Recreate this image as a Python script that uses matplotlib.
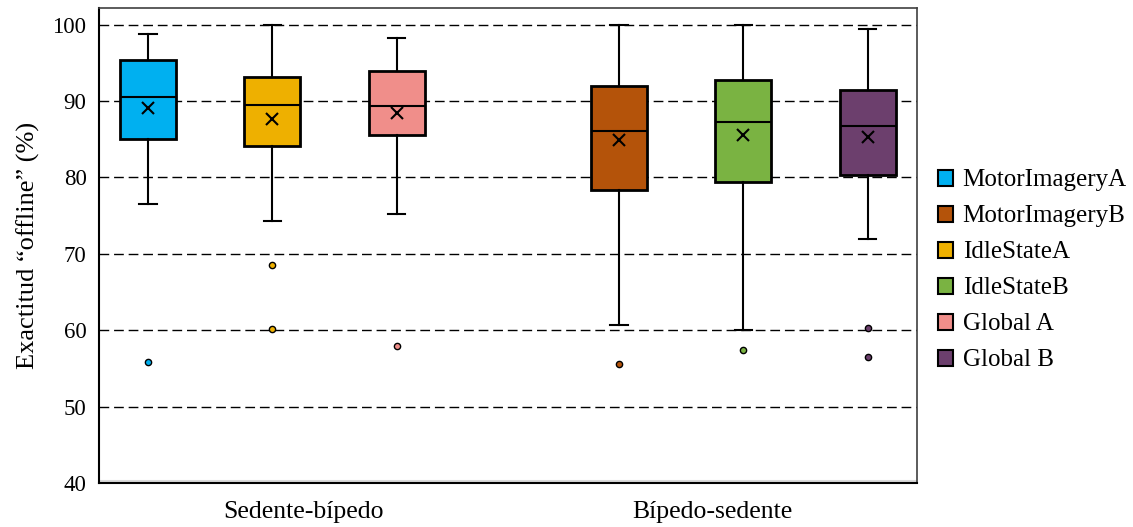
import matplotlib
matplotlib.use("Agg")
import matplotlib.pyplot as plt
from matplotlib.patches import Patch

plt.rcParams['font.family'] = ['Liberation Serif', 'DejaVu Serif']

# categories on the x axis
groups = ['Sedente-bípedo', 'Bípedo-sedente']

# series (legend order) and the group each one belongs to
series = ['MotorImageryA', 'MotorImageryB', 'IdleStateA', 'IdleStateB', 'Global A', 'Global B']
series_group = [0, 1, 0, 1, 0, 1]
colors = ['#00B0F0', '#B4530A', '#EEB000', '#7AB342', '#F08E8A', '#6C3F6D']

# box statistics
whislo = [76.5, 60.7, 74.3, 60.0, 75.2, 71.9]
q1 = [85.0, 78.4, 84.1, 79.4, 85.5, 80.3]
med = [90.5, 86.05, 89.45, 87.3, 89.3, 86.7]
q3 = [95.4, 92.0, 93.1, 92.7, 94.0, 91.4]
whishi = [98.75, 100.0, 100.0, 100.0, 98.3, 99.4]
means = [89.1, 84.9, 87.6, 85.5, 88.4, 85.3]
fliers = [[55.8], [55.6], [68.5, 60.1], [57.4], [58.0], [60.3, 56.5]]

fig = plt.figure(figsize=(11.33, 5.27), dpi=100)
ax = fig.add_axes([0.0874, 0.0835, 0.7216, 0.9015])

slot = 0.152
for i, name in enumerate(series):
    pos = series_group[i] + 0.5 + (i - 2.5) * slot
    st = dict(whislo=whislo[i], q1=q1[i], med=med[i], q3=q3[i], whishi=whishi[i],
              mean=means[i], fliers=fliers[i], label=name)
    ax.bxp([st], positions=[pos], widths=0.137, patch_artist=True,
           showmeans=True, manage_ticks=False,
           boxprops=dict(facecolor=colors[i], edgecolor='black', linewidth=2),
           medianprops=dict(color='black', linewidth=1.5),
           whiskerprops=dict(color='black', linewidth=1.5),
           capprops=dict(color='black', linewidth=1.5),
           capwidths=0.042,
           meanprops=dict(marker='x', markeredgecolor='black', markersize=8,
                          markeredgewidth=1.5),
           flierprops=dict(marker='o', markerfacecolor=colors[i],
                           markeredgecolor='black', markersize=4.5,
                           markeredgewidth=1.0),
           zorder=3)

ax.set_xlim(0, 2)
ax.set_ylim(40, 102.2)
ax.set_yticks(range(40, 101, 10))
ax.set_xticks([0.5, 1.5])
ax.set_xticklabels(groups)
ax.tick_params(axis='both', length=0)
ax.tick_params(axis='y', labelsize=16.5, pad=9)
ax.tick_params(axis='x', labelsize=18.5, pad=13)

for v in range(50, 101, 10):
    ax.axhline(v, color='black', linewidth=1.0, dashes=(7, 3.5), zorder=1)

# faint inner shadow along the bottom of the plot area
ax.axhline(40.3, color='#d9d9d9', linewidth=1.5, zorder=1)

for s in ['top', 'right']:
    ax.spines[s].set_color('#404040')
    ax.spines[s].set_linewidth(1.2)
for s in ['left', 'bottom']:
    ax.spines[s].set_color('black')
    ax.spines[s].set_linewidth(1.5)

ax.set_ylabel('Exactitud \u201coffline\u201d (%)', fontsize=19, labelpad=9)

handles = [Patch(facecolor=c, edgecolor='black', linewidth=1.5) for c in colors]
ax.legend(handles, series, loc='center left', bbox_to_anchor=(1.0257, 0.4474),
          frameon=False, fontsize=18, handlelength=0.6, handleheight=0.6,
          handletextpad=0.4, labelspacing=0.56, borderpad=0, borderaxespad=0)

fig.savefig('out.png', dpi=100)
